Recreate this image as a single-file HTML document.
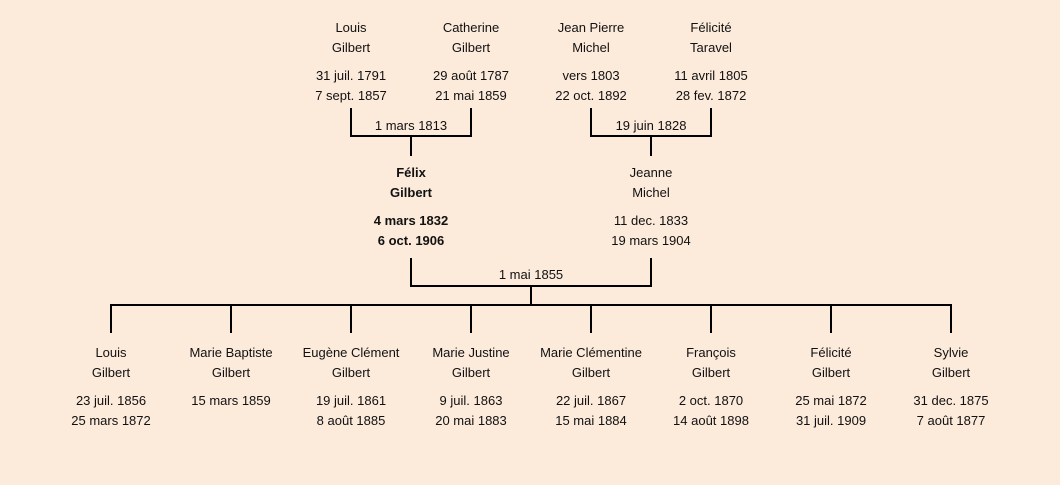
<!DOCTYPE html>
<html><head><meta charset="utf-8"><style>
body{margin:0;width:1060px;height:485px;background:#fceadb;position:relative;overflow:hidden;font-family:"Comic Sans MS","Liberation Sans",sans-serif;font-size:13px;color:#111}
.t{position:absolute;width:140px;margin-left:-70px;text-align:center;line-height:20px;white-space:nowrap}
.b{font-weight:bold}
.l{position:absolute;background:#000}
.lab{position:absolute;width:120px;margin-left:-60px;text-align:center;line-height:16px}
</style></head><body>
<div class="t" style="left:351px;top:18px">Louis<br>Gilbert<div style="height:8px"></div>31 juil. 1791<br>7 sept. 1857</div>
<div class="t" style="left:471px;top:18px">Catherine<br>Gilbert<div style="height:8px"></div>29 août 1787<br>21 mai 1859</div>
<div class="t" style="left:591px;top:18px">Jean Pierre<br>Michel<div style="height:8px"></div>vers 1803<br>22 oct. 1892</div>
<div class="t" style="left:711px;top:18px">Félicité<br>Taravel<div style="height:8px"></div>11 avril 1805<br>28 fev. 1872</div>
<div class="t b" style="left:411px;top:163px">Félix<br>Gilbert<div style="height:8px"></div>4 mars 1832<br>6 oct. 1906</div>
<div class="t" style="left:651px;top:163px">Jeanne<br>Michel<div style="height:8px"></div>11 dec. 1833<br>19 mars 1904</div>
<div class="t" style="left:111px;top:343px">Louis<br>Gilbert<div style="height:8px"></div>23 juil. 1856<br>25 mars 1872</div>
<div class="t" style="left:231px;top:343px">Marie Baptiste<br>Gilbert<div style="height:8px"></div>15 mars 1859</div>
<div class="t" style="left:351px;top:343px">Eugène Clément<br>Gilbert<div style="height:8px"></div>19 juil. 1861<br>8 août 1885</div>
<div class="t" style="left:471px;top:343px">Marie Justine<br>Gilbert<div style="height:8px"></div>9 juil. 1863<br>20 mai 1883</div>
<div class="t" style="left:591px;top:343px">Marie Clémentine<br>Gilbert<div style="height:8px"></div>22 juil. 1867<br>15 mai 1884</div>
<div class="t" style="left:711px;top:343px">François<br>Gilbert<div style="height:8px"></div>2 oct. 1870<br>14 août 1898</div>
<div class="t" style="left:831px;top:343px">Félicité<br>Gilbert<div style="height:8px"></div>25 mai 1872<br>31 juil. 1909</div>
<div class="t" style="left:951px;top:343px">Sylvie<br>Gilbert<div style="height:8px"></div>31 dec. 1875<br>7 août 1877</div>
<div class="l" style="left:350px;top:108px;width:2px;height:29px"></div>
<div class="l" style="left:470px;top:108px;width:2px;height:29px"></div>
<div class="l" style="left:350px;top:135px;width:122px;height:2px"></div>
<div class="l" style="left:410px;top:135px;width:2px;height:21px"></div>
<div class="lab" style="left:411px;top:118px">1 mars 1813</div>
<div class="l" style="left:590px;top:108px;width:2px;height:29px"></div>
<div class="l" style="left:710px;top:108px;width:2px;height:29px"></div>
<div class="l" style="left:590px;top:135px;width:122px;height:2px"></div>
<div class="l" style="left:650px;top:135px;width:2px;height:21px"></div>
<div class="lab" style="left:651px;top:118px">19 juin 1828</div>
<div class="l" style="left:410px;top:258px;width:2px;height:29px"></div>
<div class="l" style="left:650px;top:258px;width:2px;height:29px"></div>
<div class="l" style="left:410px;top:285px;width:242px;height:2px"></div>
<div class="l" style="left:530px;top:285px;width:2px;height:21px"></div>
<div class="lab" style="left:531px;top:267px">1 mai 1855</div>
<div class="l" style="left:110px;top:304px;width:842px;height:2px"></div>
<div class="l" style="left:110px;top:304px;width:2px;height:29px"></div>
<div class="l" style="left:230px;top:304px;width:2px;height:29px"></div>
<div class="l" style="left:350px;top:304px;width:2px;height:29px"></div>
<div class="l" style="left:470px;top:304px;width:2px;height:29px"></div>
<div class="l" style="left:590px;top:304px;width:2px;height:29px"></div>
<div class="l" style="left:710px;top:304px;width:2px;height:29px"></div>
<div class="l" style="left:830px;top:304px;width:2px;height:29px"></div>
<div class="l" style="left:950px;top:304px;width:2px;height:29px"></div>
</body></html>
